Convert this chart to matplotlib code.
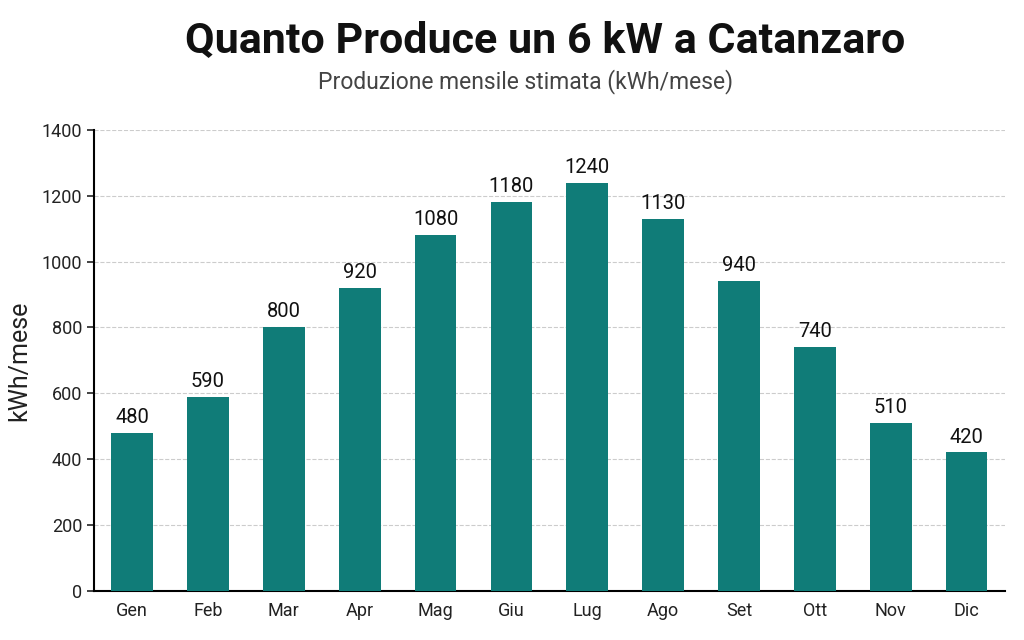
import matplotlib.pyplot as plt
import numpy as np

months = ['Gen', 'Feb', 'Mar', 'Apr', 'Mag', 'Giu', 'Lug', 'Ago', 'Set', 'Ott', 'Nov', 'Dic']
production = [480, 590, 800, 920, 1080, 1180, 1240, 1130, 940, 740, 510, 420]
yticks = [0, 200, 400, 600, 800, 1000, 1200, 1400]

plt.rcParams['font.family'] = ['Roboto', 'DejaVu Sans']

fig = plt.figure(figsize=(10.24, 6.4), dpi=100)
ax = fig.add_axes([0.092, 0.077, 0.889, 0.72])

x = np.arange(len(months))
ax.bar(x, production, width=0.55, color='#107c78', zorder=3)
for xi, v in zip(x, production):
    ax.text(xi, v + 18, str(v), ha='center', va='bottom', fontsize=14.5, color='#111111')

ax.set_xlim(-0.5, len(months) - 0.5)
ax.set_ylim(0, 1400)
ax.set_yticks(yticks)
ax.set_xticks(x)
ax.set_xticklabels(months)
ax.tick_params(axis='both', labelsize=13, colors='#222222')
ax.tick_params(axis='x', length=0, pad=8)
ax.tick_params(axis='y', length=5, width=1.2)
ax.grid(axis='y', linestyle='--', color='#cccccc', linewidth=0.8, zorder=0)
ax.spines['top'].set_visible(False)
ax.spines['right'].set_visible(False)
ax.spines['left'].set_linewidth(1.5)
ax.spines['bottom'].set_linewidth(1.5)
ax.set_ylabel('kWh/mese', fontsize=18, color='#222222', labelpad=8)

fig.text(0.532, 0.935, 'Quanto Produce un 6 kW a Catanzaro', ha='center', va='center',
         fontsize=31, fontweight='bold', color='#111111')
fig.text(0.513, 0.873, 'Produzione mensile stimata (kWh/mese)', ha='center', va='center',
         fontsize=16.5, color='#444444')

fig.savefig('out.png', dpi=100)
